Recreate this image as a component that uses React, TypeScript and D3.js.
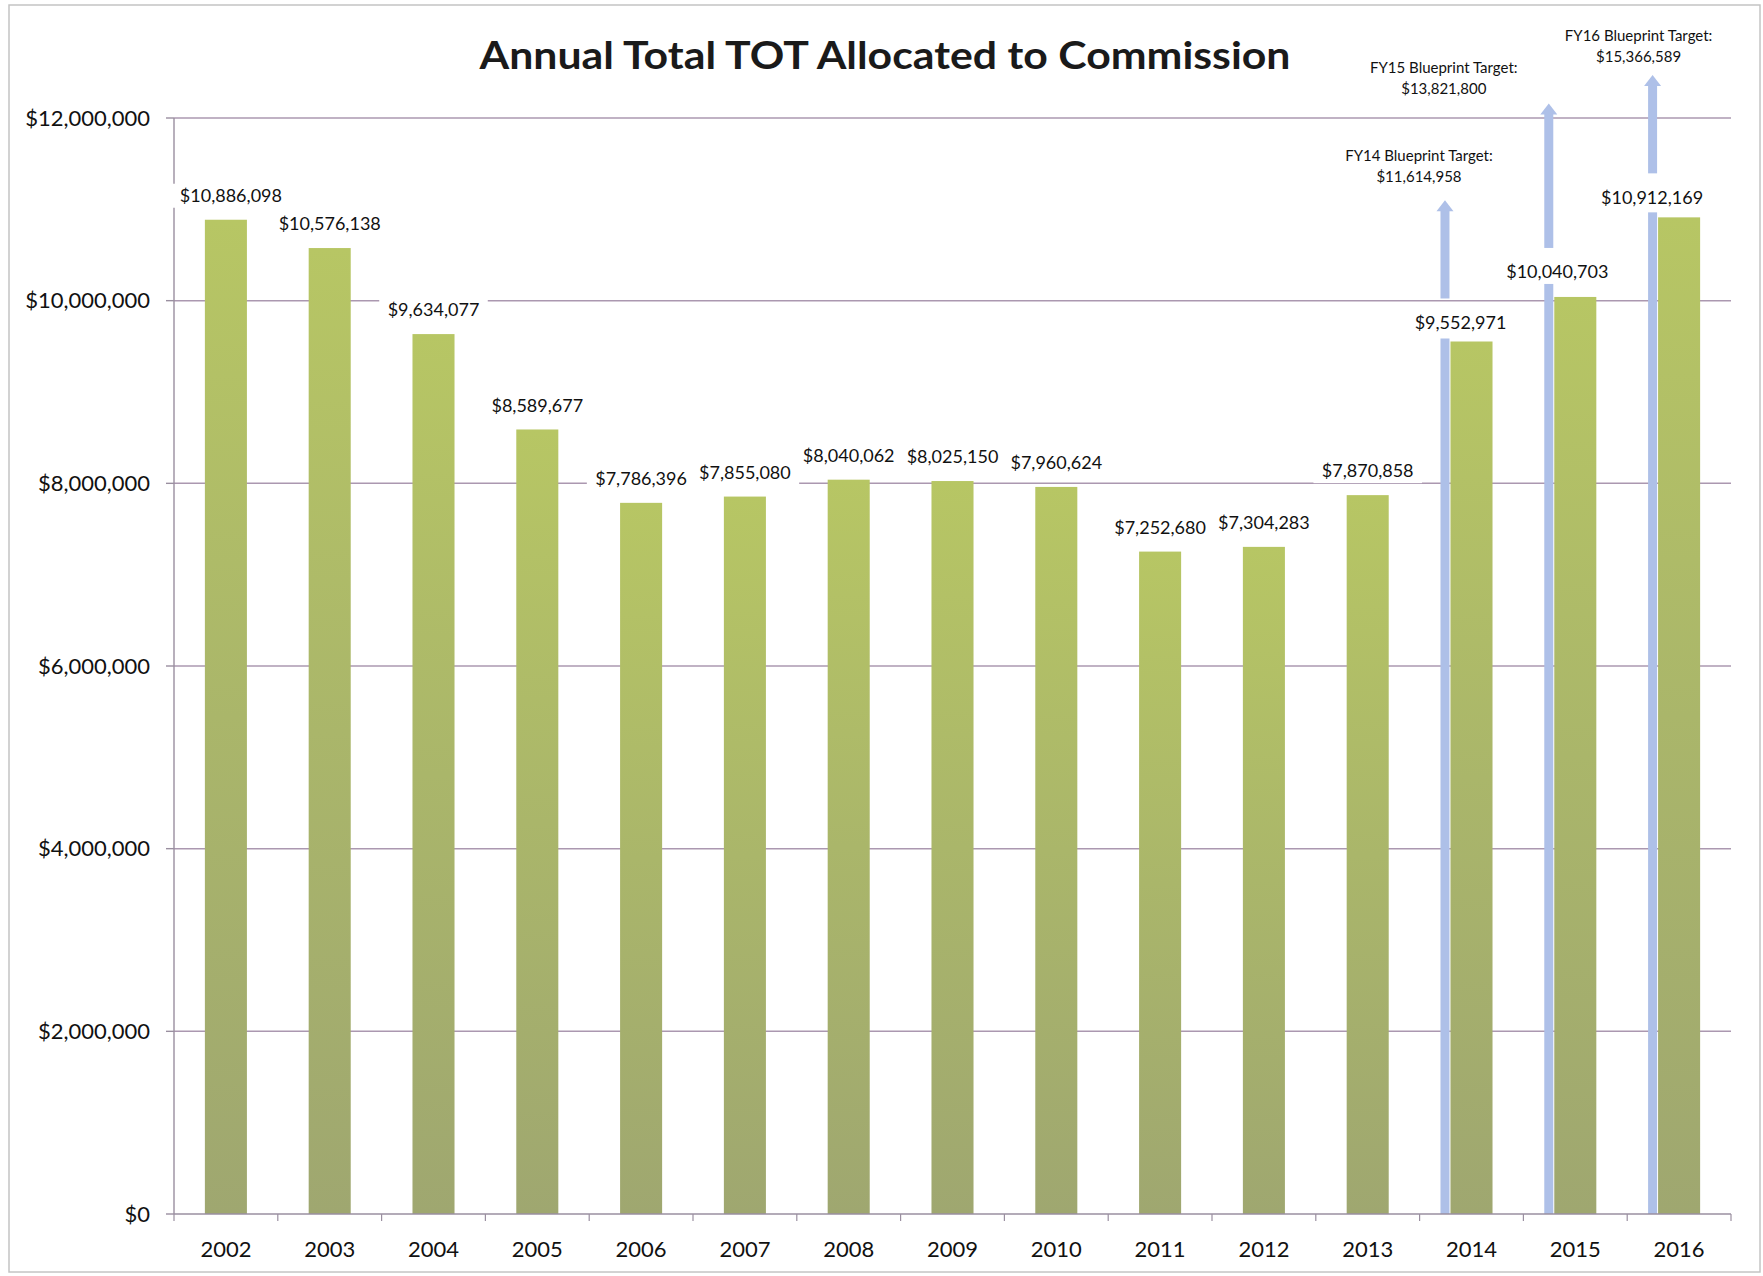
import React from "react";
import * as d3 from "d3";

const years = ["2002","2003","2004","2005","2006","2007","2008","2009","2010","2011","2012","2013","2014","2015","2016"];
const totals = [10886098,10576138,9634077,8589677,7786396,7855080,8040062,8025150,7960624,7252680,7304283,7870858,9552971,10040703,10912169];
const yTicks = [0,2000000,4000000,6000000,8000000,10000000,12000000];

const targetYears = ["2014","2015","2016"];
const targetNames = ["FY14 Blueprint Target:","FY15 Blueprint Target:","FY16 Blueprint Target:"];
const targetValues = [11614958,13821800,15366589];
// arrow tips as drawn in the picture (not to scale), in axis units
const arrowTipValues = [11100000,12160000,12470000];

const TITLE = "Annual Total TOT Allocated to Commission";
const FONT = "Lato, 'Open Sans', sans-serif";

export default function App() {
  const W = 1763, H = 1276;
  const left = 174, right = 1731, top = 118, bottom = 1214;
  const x = d3.scaleBand<string>().domain(years).range([left, right]).paddingInner(0.595).paddingOuter(0.2975);
  const y = d3.scaleLinear().domain([0, 12000000]).range([bottom, top]);
  const fmt = d3.format("$,");
  const bw = x.bandwidth();
  const labelFs = 18;
  const estW = (s: string, fs: number) => {
    let w = 0;
    for (const c of s) w += c === "," ? 0.25 : 0.58;
    return w * fs;
  };
  const blueW = 9;
  const arrowW = 17, arrowH = 11;
  const targetLabelShift = [0, -7, -16];
  const blueExtra = [0, 12, 2];

  return (
    <svg width={W} height={H} style={{ position: "absolute", left: 0, top: 0, background: "#fff" }} fontFamily={FONT}>
      <defs>
        <linearGradient id="gbar" x1="0" y1="0" x2="0" y2="1">
          <stop offset="0" stopColor="#b7c664" />
          <stop offset="0.5" stopColor="#aab66a" />
          <stop offset="1" stopColor="#9fa770" />
        </linearGradient>
      </defs>
      <rect x={9} y={5} width={1751} height={1267} fill="none" stroke="#c4c4c4" strokeWidth={1.5} />
      <text x={885} y={56} dy="0.35em" textAnchor="middle" fontSize={38} fontWeight={700} fill="#1a1a1a" textLength={811} lengthAdjust="spacingAndGlyphs">{TITLE}</text>

      {/* gridlines */}
      {yTicks.map((t) => (
        <g key={t}>
          {t > 0 && <line x1={left} x2={right} y1={y(t)} y2={y(t)} stroke="#ab98b0" strokeWidth={1.5} />}
          <line x1={left - 8} x2={left} y1={y(t)} y2={y(t)} stroke="#9a8fa0" strokeWidth={1.4} />
          <text x={150} y={y(t)} dy="0.35em" textAnchor="end" fontSize={22} fill="#111">{fmt(t)}</text>
        </g>
      ))}
      {/* axes */}
      <line x1={left} x2={left} y1={top} y2={bottom} stroke="#9a8fa0" strokeWidth={1.4} />

      {/* blue target bars (lower part) */}
      {targetYears.map((yr, i) => {
        const v = totals[years.indexOf(yr)];
        const bx = (x(yr) as number) - blueW - 1;
        const t = y(v) - 3 - blueExtra[i];
        return <rect key={"bl" + yr} x={bx} y={t} width={blueW} height={bottom - t} fill="#aec0e8" />;
      })}

      {/* green bars */}
      {years.map((yr, i) => (
        <rect key={yr} x={x(yr)} y={y(totals[i])} width={bw} height={bottom - y(totals[i])} fill="url(#gbar)" />
      ))}

      <line x1={left} x2={right} y1={bottom} y2={bottom} stroke="#9a8fa0" strokeWidth={1.6} />
      {years.map((yr, i) => (
        <line key={"t" + yr} x1={left + i * x.step()} x2={left + i * x.step()} y1={bottom} y2={bottom + 7} stroke="#9a8fa0" strokeWidth={1.2} />
      ))}
      <line x1={right} x2={right} y1={bottom} y2={bottom + 7} stroke="#9a8fa0" strokeWidth={1.2} />

      {/* value labels */}
      {years.map((yr, i) => {
        const v = totals[i];
        const ti = targetYears.indexOf(yr);
        const isT = ti >= 0;
        const cx = isT
          ? (x(yr) as number) + bw / 2 - (blueW + 1) / 2 - 6 + targetLabelShift[ti]
          : (x(yr) as number) + bw / 2 + (i === 0 ? 5 : 0);
        const cy = y(v) - (isT ? 19 + blueExtra[ti] / 2 : 24);
        const s = fmt(v);
        const w = estW(s, labelFs) + 16;
        return (
          <g key={"l" + yr}>
            <rect x={cx - w / 2} y={cy - 12} width={w} height={24} fill="#fff" />
            <text x={cx} y={cy} dy="0.35em" textAnchor="middle" fontSize={labelFs} fill="#111">{s}</text>
          </g>
        );
      })}

      {/* target arrows */}
      {targetYears.map((yr, i) => {
        const v = totals[years.indexOf(yr)];
        const bcx = (x(yr) as number) - 1 - blueW / 2;
        const tip = y(arrowTipValues[i]);
        const shaftBottom = y(v) - 19 - blueExtra[i] / 2 - 24;
        const labelDx = [-26, -105, -14][i];
        const labelDy = [-44, -36, -39][i];
        return (
          <g key={"a" + yr}>
            <rect x={bcx - blueW / 2} y={tip + arrowH - 1} width={blueW} height={shaftBottom - tip - arrowH + 1} fill="#aec0e8" />
            <path d={`M${bcx},${tip} L${bcx + arrowW / 2},${tip + arrowH} L${bcx - arrowW / 2},${tip + arrowH} Z`} fill="#aec0e8" />
            <text x={bcx + labelDx} y={tip + labelDy} dy="0.35em" textAnchor="middle" fontSize={15} fill="#111">{targetNames[i]}</text>
            <text x={bcx + labelDx} y={tip + labelDy + 21} dy="0.35em" textAnchor="middle" fontSize={15} fill="#111">{fmt(targetValues[i])}</text>
          </g>
        );
      })}

      {/* x labels */}
      {years.map((yr) => (
        <text key={"x" + yr} x={(x(yr) as number) + bw / 2} y={bottom + 35} dy="0.35em" textAnchor="middle" fontSize={22} fill="#111">{yr}</text>
      ))}
    </svg>
  );
}
